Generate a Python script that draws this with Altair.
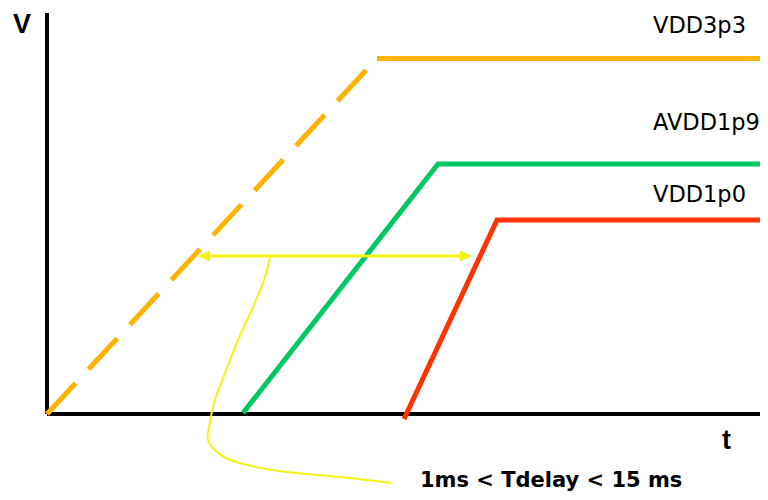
import altair as alt
import pandas as pd

# ---- data (schematic units: t = time, v = voltage) ----
AXIS_T = [0.0, 0.0]
AXIS_V = [0.0, 0.0]
AXIS_T2 = [0.0, 72.1]
AXIS_V2 = [40.1, 0.0]

VDD3P3_RAMP_T = [0.0, 33.0]
VDD3P3_RAMP_V = [0.0, 35.55]
VDD3P3_FLAT_T = [33.0, 72.1]
VDD3P3_FLAT_V = [35.55, 35.55]

AVDD1P9_T = [19.6, 39.1, 72.1]
AVDD1P9_V = [0.1, 25.0, 25.0]

VDD1P0_T = [35.7, 45.0, 72.1]
VDD1P0_V = [-0.5, 19.4, 19.4]

ARROW_T = [15.3]
ARROW_T2 = [42.3]
ARROW_V = [15.8]
HEAD_T = [15.7, 41.9]
HEAD_V = [15.8, 15.8]
HEAD_DIR = ["left", "right"]

CURVE_T = [22.3, 21.8, 20.6, 19.1, 17.8, 16.8, 16.2, 16.1, 16.7, 17.9, 20.4, 24.0, 29.4, 34.4]
CURVE_V = [15.7, 13.7, 10.7, 7.4, 4.1, 1.4, -1.3, -2.6, -3.5, -4.4, -5.2, -5.8, -6.3, -6.9]

SERIES_LABELS = ["VDD3p3", "AVDD1p9", "VDD1p0"]
SERIES_LABEL_T = [60.6, 60.6, 60.6]
SERIES_LABEL_V = [38.1, 28.4, 21.2]

AXIS_LABELS = ["V", "t"]
AXIS_LABEL_T = [-3.4, 67.5]
AXIS_LABEL_V = [38.1, -3.5]

NOTE_TEXT = ["1ms < Tdelay < 15 ms"]
NOTE_T = [37.3]
NOTE_V = [-7.3]

ORANGE = "#FFB200"
GREEN = "#00C864"
RED = "#FF3300"
YELLOW = "#F4F414"

# ---- scales ----
xs = alt.Scale(domain=[-3.9, 71.3], nice=False, zero=False)
ys = alt.Scale(domain=[-7.8, 40.6], nice=False, zero=False)


def X(f="t"):
    return alt.X(f"{f}:Q", scale=xs, axis=None)


def Y(f="v"):
    return alt.Y(f"{f}:Q", scale=ys, axis=None)


axes_df = pd.DataFrame({"t": AXIS_T, "v": AXIS_V, "t2": AXIS_T2, "v2": AXIS_V2})
axes = alt.Chart(axes_df).mark_rule(color="black", strokeWidth=4).encode(
    x=X(), y=Y(), x2="t2:Q", y2="v2:Q"
)


def line_df(ts, vs):
    return pd.DataFrame({"t": ts, "v": vs, "i": list(range(len(ts)))})


ramp = alt.Chart(line_df(VDD3P3_RAMP_T, VDD3P3_RAMP_V)).mark_line(
    color=ORANGE, strokeWidth=5, strokeDash=[42, 19], strokeCap="butt"
).encode(x=X(), y=Y(), order="i:Q")

flat = alt.Chart(line_df(VDD3P3_FLAT_T, VDD3P3_FLAT_V)).mark_line(
    color=ORANGE, strokeWidth=5
).encode(x=X(), y=Y(), order="i:Q")

green = alt.Chart(line_df(AVDD1P9_T, AVDD1P9_V)).mark_line(
    color=GREEN, strokeWidth=5, strokeJoin="miter"
).encode(x=X(), y=Y(), order="i:Q")

red = alt.Chart(line_df(VDD1P0_T, VDD1P0_V)).mark_line(
    color=RED, strokeWidth=5, strokeJoin="miter"
).encode(x=X(), y=Y(), order="i:Q")

arrow = alt.Chart(pd.DataFrame({"t": ARROW_T, "t2": ARROW_T2, "v": ARROW_V})).mark_rule(
    color=YELLOW, strokeWidth=3
).encode(x=X(), x2="t2:Q", y=Y())

heads = alt.Chart(pd.DataFrame({"t": HEAD_T, "v": HEAD_V, "d": HEAD_DIR})).mark_point(
    filled=True, size=150, opacity=1, color=YELLOW, strokeWidth=0
).encode(
    x=X(), y=Y(),
    shape=alt.Shape("d:N", scale=alt.Scale(domain=["left", "right"],
                                           range=["M-1,0L1,-0.9L1,0.9Z", "M1,0L-1,-0.9L-1,0.9Z"]),
                    legend=None),
)

curve = alt.Chart(line_df(CURVE_T, CURVE_V)).mark_line(
    color=YELLOW, strokeWidth=2, interpolate="catmull-rom"
).encode(x=X(), y=Y(), order="i:Q")

labels = alt.Chart(pd.DataFrame({"t": SERIES_LABEL_T, "v": SERIES_LABEL_V, "s": SERIES_LABELS})).mark_text(
    align="left", baseline="alphabetic", font="DejaVu Sans", fontSize=22.5, color="black"
).encode(x=X(), y=Y(), text="s:N")

axis_labels = alt.Chart(pd.DataFrame({"t": AXIS_LABEL_T, "v": AXIS_LABEL_V, "s": AXIS_LABELS})).mark_text(
    align="left", baseline="alphabetic", font="Liberation Sans", fontSize=27, fontWeight="bold", color="black"
).encode(x=X(), y=Y(), text="s:N")

note = alt.Chart(pd.DataFrame({"t": NOTE_T, "v": NOTE_V, "s": NOTE_TEXT})).mark_text(
    align="left", baseline="alphabetic", font="DejaVu Sans", fontSize=21, fontWeight="bold", color="black"
).encode(x=X(), y=Y(), text="s:N")

chart = alt.layer(
    axes, ramp, flat, green, red, curve, arrow, heads, labels, axis_labels, note
).properties(
    width=752, height=484, autosize=alt.AutoSizeParams(type="none"), padding=0, background="white"
).configure_view(stroke=None)

chart.save("out.html", embed_options={"renderer": "svg", "actions": False})
